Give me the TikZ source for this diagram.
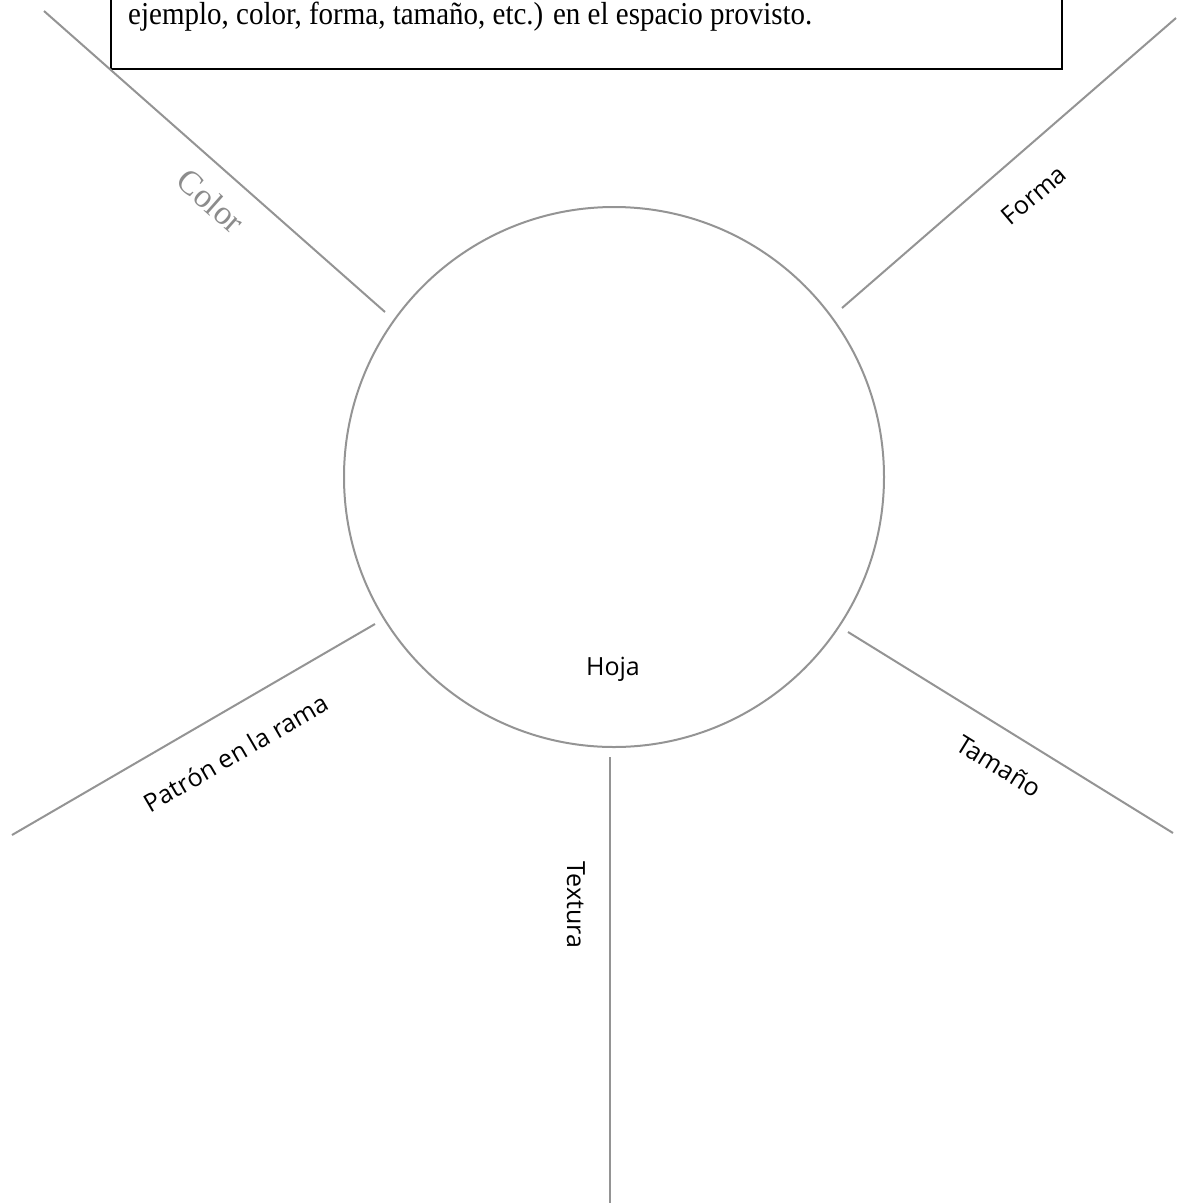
\documentclass[tikz,border=0pt]{standalone}
\usepackage{fontspec}
\setmainfont{Liberation Serif}
\newfontfamily\labfont{Open Sans}
\begin{document}
\begin{tikzpicture}[x=1pt,y=-1pt,
  ray/.style={draw=black!42, line width=2pt},
  lab/.style={font=\labfont\fontsize{25}{30}\selectfont, inner sep=0pt, text=black},
  seriflab/.style={font=\fontsize{34}{38}\selectfont, inner sep=0pt, text=black!45},
  boxstyle/.style={draw=black, line width=2pt}]
\useasboundingbox (0,0) rectangle (1179,1203);
\clip (0,0) rectangle (1179,1203);
% instruction box
\node[boxstyle, minimum width=951pt, minimum height=120pt, anchor=south west, inner sep=0pt] (box) at (110,70) {};
\node[font=\fontsize{29}{34}\selectfont, anchor=base west, inner sep=0pt, yscale=1.1] (instr) at (128,24) {ejemplo, color, forma, tamaño, etc.) en el espacio provisto.};
% central circle
\node[draw=black!42, line width=2pt, circle, minimum size=540pt, inner sep=0pt] (hoja) at (614,477) {};
\node[lab] (hojatxt) at (613,669) {Hoja};
% ray end points
\coordinate (c1) at (44,11);   \coordinate (c2) at (385,312);
\coordinate (f1) at (842,308); \coordinate (f2) at (1176,18);
\coordinate (p1) at (12,835);  \coordinate (p2) at (375,624);
\coordinate (t1) at (848,632); \coordinate (t2) at (1173,833);
\coordinate (x1) at (610,757); \coordinate (x2) at (610,1203);
\draw[ray] (c2) -- (c1);
\draw[ray] (f1) -- (f2);
\draw[ray] (p1) -- (p2);
\draw[ray] (t1) -- (t2);
\draw[ray] (x1) -- (x2);
% labels
\node[seriflab, rotate=-41.6] (color) at (211,201) {Color};
\node[lab, rotate=40.3] (forma) at (1034,195) {Forma};
\node[lab, rotate=30.2] (patron) at (236,753) {Patrón en la rama};
\node[lab, rotate=-31.7] (tamano) at (999,766) {Tamaño};
\node[lab, rotate=-90] (textura) at (576,905) {Textura};
\end{tikzpicture}
\end{document}
